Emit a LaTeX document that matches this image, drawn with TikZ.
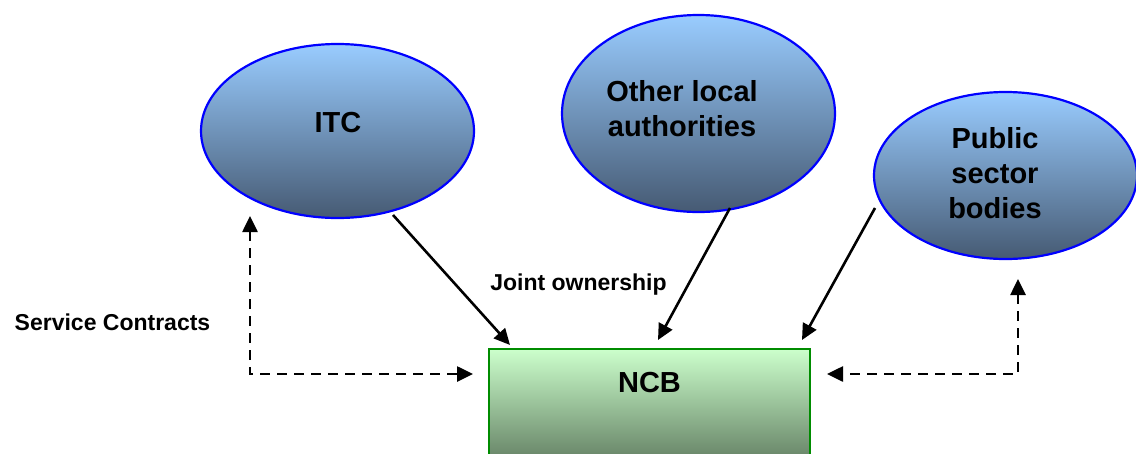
\documentclass[tikz,border=0pt]{standalone}
\usepackage{fontspec}
\setmainfont{Liberation Sans}
\usetikzlibrary{arrows.meta,shapes.geometric}
\definecolor{elltop}{RGB}{153,204,255}
\definecolor{ellbot}{RGB}{70,90,115}
\definecolor{ellline}{RGB}{0,0,255}
\definecolor{recttop}{RGB}{204,255,204}
\definecolor{rectbot}{RGB}{90,116,90}
\definecolor{rectline}{RGB}{0,140,0}
\begin{document}
\begin{tikzpicture}[x=1pt,y=-1pt,
  ell/.style={ellipse, draw=ellline, line width=2.2pt, top color=elltop, bottom color=ellbot, inner sep=0pt, outer sep=0pt},
  boxnode/.style={rectangle, draw=rectline, line width=2.2pt, top color=recttop, bottom color=rectbot, inner sep=0pt, outer sep=0pt, anchor=north west},
  nodetext/.style={font=\fontsize{29}{35}\selectfont\bfseries, align=center, inner sep=0pt},
  lbl/.style={font=\fontsize{23}{27}\selectfont\bfseries, inner sep=0pt, anchor=base},
  conn/.style={line width=2.6pt, -{Triangle[length=16pt,width=15pt]}},
  dconn/.style={line width=2.6pt, dash pattern=on 10pt off 7pt, {Triangle[length=16pt,width=15pt]}-{Triangle[length=16pt,width=15pt]}}
]
\clip (0,0) rectangle (1136,453);
\fill[white] (0,0) rectangle (1136,453);

% nodes
\node[ell, minimum width=273pt, minimum height=174pt] (itc) at (337.5,131) {};
\node[ell, minimum width=273pt, minimum height=197pt] (ola) at (698.5,113.5) {};
\node[ell, minimum width=263pt, minimum height=167pt] (pub) at (1005.5,175.5) {};
\node[boxnode, minimum width=321pt, minimum height=125pt] (ncb) at (489,349) {};

% node texts
\node[nodetext, anchor=base] (itct) at (338,132) {ITC};
\node[nodetext] (olat) at (682,108.5) {Other local\\authorities};
\node[nodetext] (pubt) at (995,173) {Public\\sector\\bodies};
\node[nodetext, anchor=base] (ncbt) at (649.5,392) {NCB};

% labels
\node[lbl] (joint) at (578.5,290) {Joint ownership};
\node[lbl] (svc) at (112.5,330) {Service Contracts};

% solid connectors
\draw[conn] ([xshift=55.5pt,yshift=-84pt]itc.center) -- ([xshift=21pt,yshift=4pt]ncb.north west);
\draw[conn] ([xshift=31.5pt,yshift=-94.5pt]ola.center) -- ([xshift=169pt,yshift=9pt]ncb.north west);
\draw[conn] ([xshift=1pt,yshift=-32.5pt]pub.west) -- ([xshift=-8pt,yshift=9pt]ncb.north east);

% dashed connectors
\draw[dconn] ([xshift=-87.5pt,yshift=2pt]itc.south) |- ([xshift=-16pt,yshift=-25pt]ncb.north west);
\draw[dconn] ([xshift=12.5pt,yshift=-20pt]pub.south) |- ([xshift=17pt,yshift=-25pt]ncb.north east);
\end{tikzpicture}
\end{document}
